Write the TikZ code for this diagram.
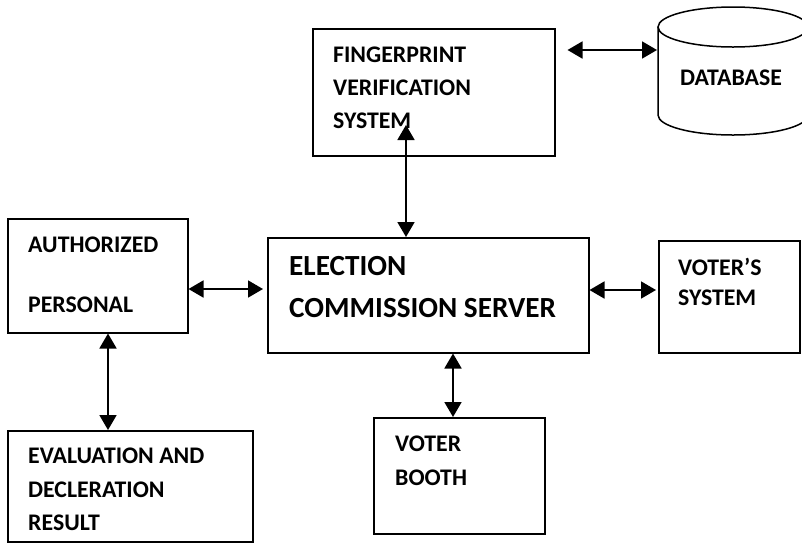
\documentclass[tikz,border=0pt]{standalone}
\usepackage{fontspec}
\setmainfont{Carlito}
\usetikzlibrary{arrows.meta}
\begin{document}
\begin{tikzpicture}[x=1pt,y=-1pt,
  box/.style={draw,line width=1.5pt,inner sep=0pt,anchor=north west},
  lbl/.style={anchor=base west,inner sep=0pt,font=\fontsize{23.8}{28}\selectfont\bfseries},
  biglbl/.style={anchor=base west,inner sep=0pt,font=\fontsize{29.2}{34}\selectfont\bfseries},
  arr/.style={line width=1.8pt,{Triangle[length=15pt,width=17pt]}-{Triangle[length=15pt,width=17pt]}}]
\useasboundingbox (0,0) rectangle (802,542);
\clip (0,0) rectangle (802,542);
% boxes
\node[box,minimum width=242pt,minimum height=127pt] (fv) at (312,28) {};
\node[box,minimum width=321pt,minimum height=115pt] (elec) at (267,237) {};
\node[box,minimum width=180pt,minimum height=114pt] (auth) at (7,218) {};
\node[box,minimum width=245pt,minimum height=111pt] (eval) at (7,430) {};
\node[box,minimum width=171pt,minimum height=116pt] (booth) at (373,417) {};
\node[box,minimum width=141pt,minimum height=112pt] (vs) at (658,240) {};
% database cylinder
\draw[line width=1.5pt,fill=white] (658,27) -- (658,115) arc[start angle=180,end angle=0,x radius=75,y radius=20] -- (808,27);
\draw[line width=1.5pt] (733,27) ellipse[x radius=75,y radius=20];
\coordinate (db) at (657,50);
% texts
\node[lbl] (t1) at (333,62) {FINGERPRINT};
\node[lbl] (t2) at (333,95) {VERIFICATION};
\node[lbl] (t3) at (333,128) {SYSTEM};
\node[lbl] (t4) at (680,85) {DATABASE};
\node[biglbl] (t5) at (289,275) {ELECTION};
\node[biglbl] (t6) at (289,317) {COMMISSION SERVER};
\node[lbl] (t7) at (28,252) {AUTHORIZED};
\node[lbl] (t8) at (28,312) {PERSONAL};
\node[lbl] (t9) at (28,463) {EVALUATION AND};
\node[lbl] (t10) at (28,497) {DECLERATION};
\node[lbl] (t11) at (28,530) {RESULT};
\node[lbl] (t12) at (395,451) {VOTER};
\node[lbl] (t13) at (395,485) {BOOTH};
\node[lbl] (t14) at (678,275) {VOTER’S};
\node[lbl] (t15) at (678,305) {SYSTEM};
% connectors
\coordinate (fvin) at (406,125);
\draw[arr] (elec.north -| fvin) -- (fvin);
\draw[arr,shorten <=12pt] (fv.east |- db) -- (db);
\draw[arr,shorten >=4pt] (auth.east |- 0,289) -- (elec.west |- 0,289);
\draw[arr,shorten >=2pt] (elec.east |- 0,290) -- (vs.west |- 0,290);
\draw[arr] (auth.south -| 108,0) -- (eval.north -| 108,0);
\draw[arr] (elec.south -| 453,0) -- (booth.north -| 453,0);
\end{tikzpicture}
\end{document}
